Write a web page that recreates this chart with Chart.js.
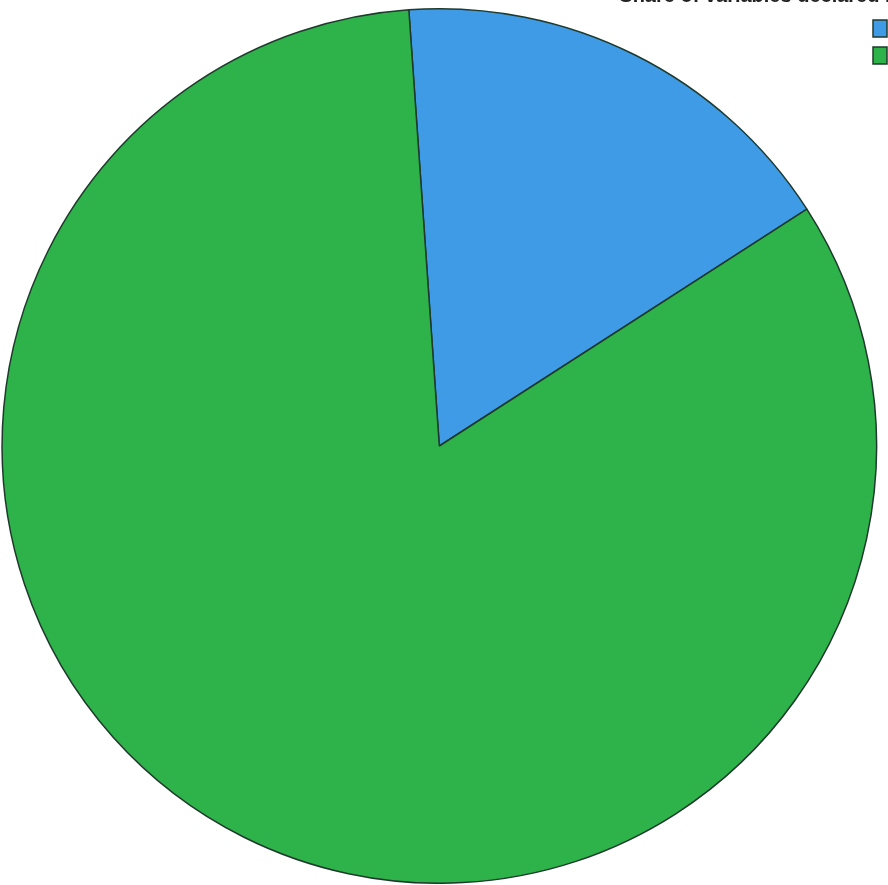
<!DOCTYPE html>
<html lang="en">
<head>
    <meta charset="UTF-8">
    <title>Pie chart</title>
    <script src="https://cdn.jsdelivr.net/npm/chart.js"></script>
    <style>
        /* page is cropped like the photo: title above, legend text to the right */
        body {
            margin: 0;
            background: #ffffff;
            overflow: hidden;
            width: 888px;
            height: 885px;
            position: relative;
        }

        #wrap {
            position: absolute;
            left: 0px;
            top: -16px;
            width: 985px;
            height: 900px;
        }
    </style>
</head>
<body>

    <div id="wrap">
        <canvas id="pie"></canvas>
    </div>

    <script>
        // chart data
        var titleText = 'Share of variables declared mutable in';
        var labels = ['Mutable', 'Immutable'];
        var values = [17, 83];
        var colours = ['#3f9be6', '#2db34a'];

        // the photo shows the legend squeezed against the pie, so nudge it left
        var legendLeft = 863;
        var legendNudge = {
            id: 'legendNudge',
            afterLayout: function (chart) {
                var lg = chart.legend;
                var w = lg.width;
                var h = lg.height;
                lg.left = legendLeft;
                lg.right = legendLeft + w;
                lg.top = lg.top + 2;
                lg.bottom = lg.top + h;
            }
        };

        var ctx = document.getElementById('pie').getContext('2d');
        var pieChart = new Chart(ctx, {
            type: 'pie',
            data: {
                labels: labels,
                datasets: [{
                    data: values,
                    backgroundColor: colours,
                    borderColor: '#1f3a2c',
                    borderWidth: 1.5
                }]
            },
            options: {
                responsive: true,
                maintainAspectRatio: false,
                animation: false,
                rotation: -4,
                layout: { padding: 0 },
                plugins: {
                    title: {
                        display: true,
                        text: titleText,
                        align: 'end',
                        color: '#222',
                        font: { family: 'Liberation Sans', size: 20 },
                        padding: { top: 0, bottom: 0 }
                    },
                    legend: {
                        position: 'right',
                        align: 'start',
                        fullSize: false,
                        labels: {
                            boxWidth: 14,
                            boxHeight: 17,
                            padding: 10,
                            color: '#222',
                            font: { family: 'Liberation Sans', size: 14 }
                        }
                    },
                    tooltip: { enabled: false }
                }
            },
            plugins: [legendNudge]
        });
    </script>

</body>
</html>
